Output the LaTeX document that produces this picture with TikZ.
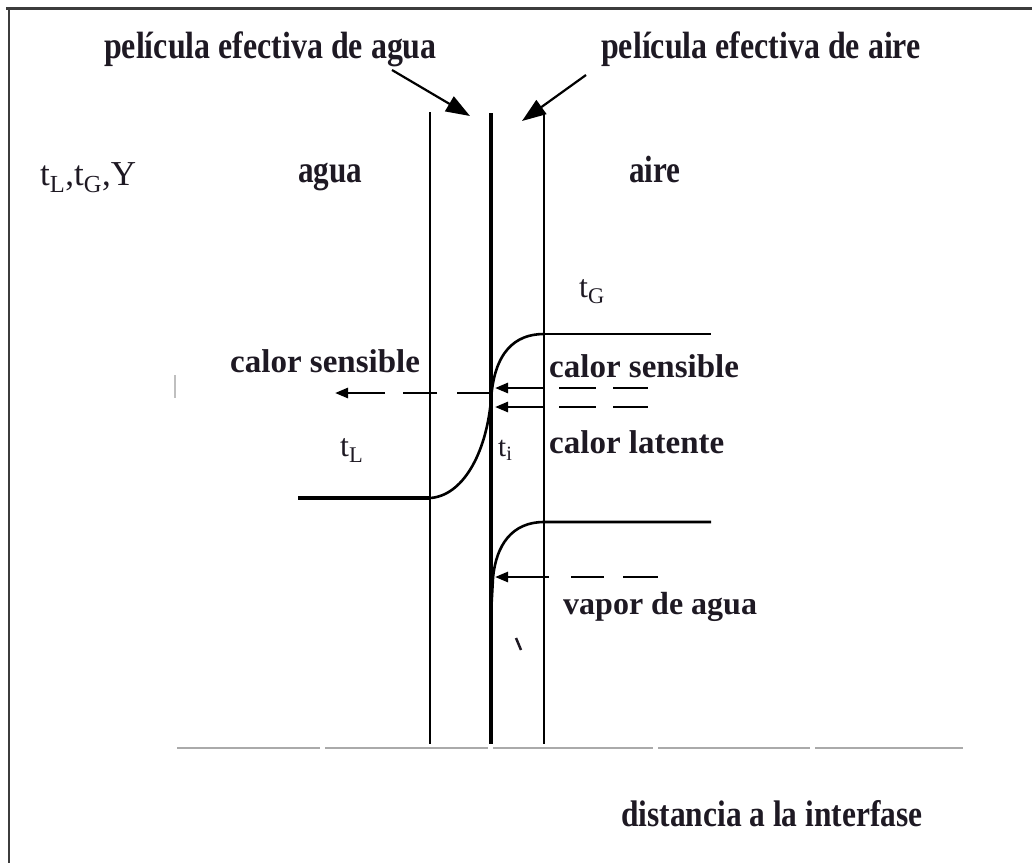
\documentclass[tikz,border=0pt]{standalone}
\usepackage{fontspec}
\setmainfont{Liberation Serif}
\usetikzlibrary{arrows.meta}
\definecolor{ink}{RGB}{30,25,35}
\definecolor{framec}{RGB}{60,60,60}
\definecolor{basec}{RGB}{170,170,170}
\newcommand\sqz[2]{\scalebox{#1}[1]{#2}}
\tikzset{
  lbl/.style={anchor=base west, inner sep=0pt, text=ink},
  bigb/.style={lbl, font=\fontsize{38}{40}\selectfont\bfseries},
  medb/.style={lbl, font=\fontsize{33}{35}\selectfont\bfseries},
  reg/.style={lbl, font=\fontsize{32}{34}\selectfont},
  film/.style={line width=2.8pt, black},
  curve/.style={line width=2.6pt, black},
  flux/.style={line width=2.6pt, black, -{Triangle[length=13pt,width=10pt]}},
  dsh/.style={line width=2.6pt, black},
  callout/.style={line width=2.2pt, black, -{Triangle[length=24pt,width=17pt]}}
}
\begin{document}
\begin{tikzpicture}[x=1pt,y=-1pt]
\useasboundingbox (0,0) rectangle (1032,863);
% frame
\draw[framec, line width=3pt] (6,8) -- (1032,8);
\draw[framec, line width=2.5pt] (9,8) -- (9,863);
% coordinates
\coordinate (fLtop) at (430,112); \coordinate (fLbot) at (430,744);
\coordinate (itop) at (491,113);  \coordinate (ibot) at (491,744);
\coordinate (fRtop) at (544,113); \coordinate (fRbot) at (544,744);
% baseline (light grey, slightly broken)
\draw[basec, line width=2pt] (177,748) -- (320,748) (325,748) -- (488,748)
  (493,748) -- (653,748) (658,748) -- (810,748) (815,748) -- (963,748);
% film lines and interface
\draw[film] (fLtop) -- (fLbot);
\draw[line width=4.8pt] (itop) -- (ibot);
\draw[film] (fRtop) -- (fRbot);
% titles and callout arrows
\node[bigb] (t1) at (104,58) {\sqz{0.84}{película efectiva de agua}};
\node[bigb] (t2) at (601,58) {\sqz{0.84}{película efectiva de aire}};
\coordinate (a1s) at (392,70); \coordinate (a1e) at (470,116);
\coordinate (a2s) at (586,75); \coordinate (a2e) at (522,121);
\draw[callout] (a1s) -- (a1e);
\draw[callout] (a2s) -- (a2e);
% axis and region labels
\node[reg, font=\fontsize{35}{37}\selectfont] (ax) at (40,185) {t\textsubscript{L},t\textsubscript{G},Y};
\node[bigb] (agua) at (298,182) {\sqz{0.82}{agua}};
\node[bigb] (aire) at (629,182) {\sqz{0.82}{aire}};
\node[reg, font=\fontsize{32}{34}\selectfont] (tG) at (579,297) {t\textsubscript{G}};
\node[reg, font=\fontsize{32}{34}\selectfont] (tL) at (340,456) {t\textsubscript{L}};
\node[reg, font=\fontsize{29}{31}\selectfont] (ti) at (498,456) {t\textsubscript{i}};
% temperature profile
\draw[line width=3.6pt] (298,498) -- (430,498);
\draw[curve] (430,498) .. controls (462,496) and (486,455) .. (491,400)
  .. controls (494,352) and (515,334) .. (544,334);
\draw[curve] (544,334) -- (711,334);
% humidity profile
\draw[curve] (711,522) -- (544,522) .. controls (512,522) and (496,545) .. (493,578) -- (491,614);
% sensible heat to water (left)
\draw[dsh] (490,393) -- (457,393) (437,393) -- (403,393);
\draw[flux] (385,393) -- (335,393);
\node[medb] (csL) at (230,372) {calor sensible};
\draw[lightgray, line width=1.5pt] (175,375) -- (175,398);
% sensible and latent heat from air
\coordinate (s1) at (544,388); \coordinate (e1) at (495,388);
\coordinate (s2) at (544,407); \coordinate (e2) at (495,407);
\draw[flux] (s1) -- (e1);
\draw[flux] (s2) -- (e2);
\draw[dsh] (559,388) -- (596,388) (613,388) -- (648,388);
\draw[dsh] (559,407) -- (596,407) (613,407) -- (648,407);
\node[medb] (csR) at (549,377) {calor sensible};
\node[medb] (cl) at (549,453) {calor latente};
% water vapour
\coordinate (s3) at (549,577); \coordinate (e3) at (495,577);
\draw[flux] (s3) -- (e3);
\draw[dsh] (571,577) -- (604,577) (623,577) -- (658,577);
\node[medb, font=\fontsize{32}{34}\selectfont\bfseries] (va) at (563,614) {vapor de agua};
% stray mark
\draw[line width=2.5pt, ink] (516,638) -- (521,650);
% x axis label
\node[bigb, font=\fontsize{37}{39}\selectfont\bfseries] (dist) at (621,826) {\sqz{0.85}{distancia a la interfase}};
\end{tikzpicture}
\end{document}
